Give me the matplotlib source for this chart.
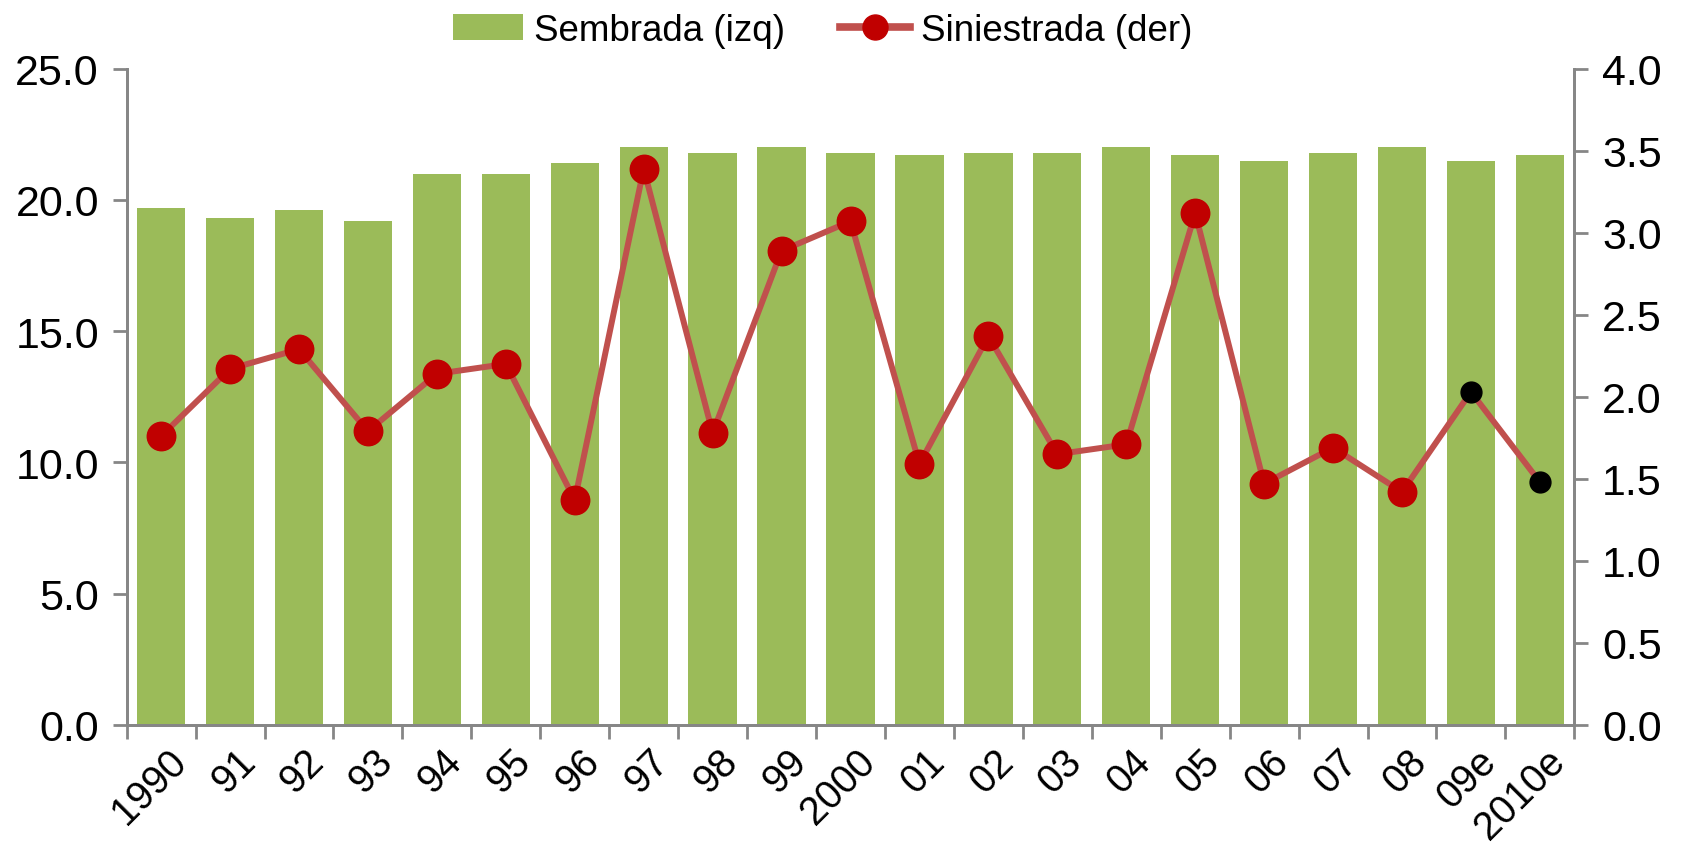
import matplotlib
matplotlib.use("Agg")
import matplotlib.pyplot as plt
from matplotlib.lines import Line2D
from matplotlib.patches import Patch
import numpy as np

plt.rcParams["font.family"] = ["Liberation Sans", "DejaVu Sans"]

# Data
years = ["1990", "91", "92", "93", "94", "95", "96", "97", "98", "99", "2000",
         "01", "02", "03", "04", "05", "06", "07", "08", "09e", "2010e"]
sembrada = [19.7, 19.3, 19.6, 19.2, 21.0, 21.0, 21.4, 22.0, 21.8, 22.0, 21.8,
            21.7, 21.8, 21.8, 22.0, 21.7, 21.5, 21.8, 22.0, 21.5, 21.7]
siniestrada = [1.76, 2.17, 2.29, 1.79, 2.14, 2.20, 1.37, 3.39, 1.78, 2.89, 3.07,
               1.59, 2.37, 1.65, 1.71, 3.12, 1.47, 1.69, 1.42, 2.03, 1.48]
n_estimated = 2  # last points are estimates (black markers)

BAR = "#9BBB59"
LINE = "#C0504D"
MARK = "#C00000"
SPINE = "#868686"

fig = plt.figure(figsize=(16.82, 8.45), dpi=100)
ax = fig.add_axes([0.0753, 0.141, 0.8607, 0.7765])
ax2 = ax.twinx()

x = np.arange(len(years))
ax.bar(x, sembrada, width=0.7, color=BAR, edgecolor="none", zorder=2)

n_obs = len(years) - n_estimated
ax2.plot(x, siniestrada, color=LINE, linewidth=4.3, zorder=3)
ax2.plot(x[:n_obs], siniestrada[:n_obs], linestyle="none", marker="o",
         markersize=20.5, markerfacecolor=MARK, markeredgecolor=MARK, zorder=4)
ax2.plot(x[n_obs:], siniestrada[n_obs:], linestyle="none", marker="o",
         markersize=15, markerfacecolor="black", markeredgecolor="black", zorder=4)

ax.set_xlim(-0.5, len(years) - 0.5)
ax.set_ylim(0, 25)
ax2.set_ylim(0, 4)
ax.set_yticks(np.arange(0, 25.1, 5))
ax.set_yticklabels([f"{v:.1f}" for v in np.arange(0, 25.1, 5)])
ax2.set_yticks(np.arange(0, 4.01, 0.5))
ax2.set_yticklabels([f"{v:.1f}" for v in np.arange(0, 4.01, 0.5)])

# category labels at centres, tick marks at boundaries
ax.set_xticks(x + 0.08)
ax.set_xticklabels(years, rotation=45, ha="right", rotation_mode="anchor")
ax.set_xticks(np.arange(-0.5, len(years)), minor=True)
ax.tick_params(axis="x", which="major", length=0, labelsize=28.5, pad=12)
ax.tick_params(axis="x", which="minor", length=10, width=2, color=SPINE, direction="out")
ax.tick_params(axis="y", length=10, width=2, color=SPINE, direction="out", labelsize=31, pad=10)
ax2.tick_params(axis="y", length=10, width=2, color=SPINE, direction="out", labelsize=31, pad=10)

for a in (ax, ax2):
    a.spines["top"].set_visible(False)
    for s in ("left", "right", "bottom"):
        a.spines[s].set_color(SPINE)
        a.spines[s].set_linewidth(2)

handles = [
    Patch(facecolor=BAR, edgecolor="none", label="Sembrada (izq)"),
    Line2D([0], [0], color=LINE, linewidth=5.5, marker="o", markersize=18,
           markerfacecolor=MARK, markeredgecolor=MARK, label="Siniestrada (der)"),
]
fig.legend(handles=handles, loc="upper center", bbox_to_anchor=(0.489, 1.005), ncol=2,
           frameon=False, fontsize=26.5, handlelength=1.9, handletextpad=0.3,
           columnspacing=1.5, borderaxespad=0.1)

fig.savefig("out.png", dpi=100)
